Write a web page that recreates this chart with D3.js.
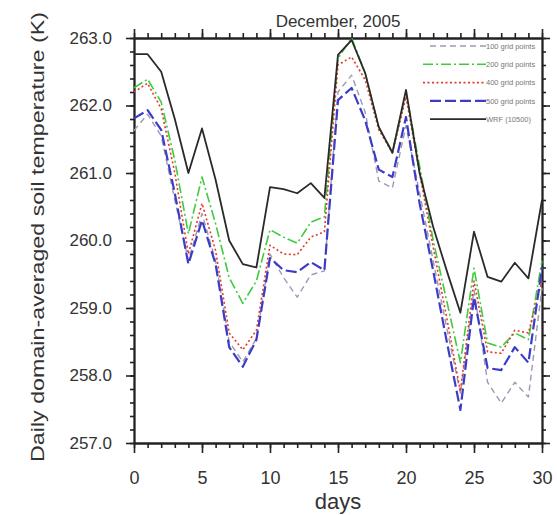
<!DOCTYPE html>
<html>
<head>
<meta charset="utf-8">
<script src="https://cdn.jsdelivr.net/npm/d3@7"></script>
<style>
  body { margin: 0; background: #fff; }
  svg { display: block; font-family: "Liberation Sans", Arial, Helvetica, sans-serif; }
  .axis path, .axis line { stroke: #222; }
  .axis text { fill: #333; }
</style>
</head>
<body>
<div id="vis"></div>
<script>
// days of December 2005
const days = d3.range(0, 31);

// series values (K)
const wrf  = [262.76, 262.76, 262.5, 261.8, 261.0, 261.66, 260.9, 260.0, 259.65, 259.6, 260.79,
              260.76, 260.7, 260.85, 260.63, 262.75, 262.97, 262.48, 261.68, 261.3, 262.23,
              261.0, 260.2, 259.55, 258.93, 260.13, 259.46, 259.39, 259.67, 259.44, 260.6];
const g200 = [262.26, 262.39, 262.05, 261.19, 260.1, 260.94, 260.25, 259.45, 259.07, 259.4, 260.16,
              260.05, 259.96, 260.27, 260.35, 262.7, 263.0, 262.48, 261.68, 261.31, 262.2,
              261.1, 260.0, 259.1, 258.19, 259.59, 258.48, 258.42, 258.63, 258.53, 259.7];
const g400 = [262.2, 262.33, 261.95, 261.0, 259.8, 260.55, 259.85, 258.63, 258.38, 258.67, 259.93,
              259.8, 259.79, 260.05, 260.13, 262.6, 262.72, 262.38, 261.64, 261.3, 262.13,
              261.0, 259.9, 258.85, 257.76, 259.4, 258.35, 258.33, 258.67, 258.63, 259.4];
const g500 = [261.81, 261.93, 261.64, 260.7, 259.65, 260.3, 259.65, 258.42, 258.13, 258.53, 259.74,
              259.56, 259.53, 259.68, 259.56, 262.08, 262.26, 261.78, 261.05, 260.94, 261.83,
              260.55, 259.55, 258.5, 257.49, 259.16, 258.11, 258.08, 258.42, 258.19, 259.6];
const g100 = [261.63, 261.87, 261.55, 260.6, 259.7, 260.4, 259.7, 258.5, 258.2, 258.55, 259.8,
              259.45, 259.16, 259.49, 259.55, 262.2, 262.45, 261.9, 260.88, 260.78, 261.7,
              260.7, 259.7, 258.7, 257.74, 259.27, 257.9, 257.59, 257.9, 257.68, 259.3];

const seriesNames = ["100 grid points", "200 grid points", "400 grid points", "500 grid points", "WRF (10500)"];
const yTicks = [257, 258, 259, 260, 261, 262, 263];
const xTicks = [0, 5, 10, 15, 20, 25, 30];

const W = 557, H = 515;
const margin = { top: 38, right: 15, bottom: 72, left: 134 };
const width = W - margin.left - margin.right;
const height = H - margin.top - margin.bottom;

const svg = d3.select("#vis").append("svg").attr("width", W).attr("height", H);
const g = svg.append("g").attr("transform", `translate(${margin.left},${margin.top})`);

const x = d3.scaleLinear().domain([0, 30]).range([0, width]);
const y = d3.scaleLinear().domain([257, 263]).range([height, 0]);

// minor ticks first, majors on top
const xMinor = d3.range(0, 31);
const yMinor = d3.range(257, 263.001, 0.2);

function styleAxis(sel) {
    sel.selectAll("path").attr("stroke-width", 1.8);
    sel.selectAll("line").attr("stroke-width", 1.6);
}

g.append("g").attr("class", "axis").attr("transform", `translate(0,${height})`)
    .call(d3.axisBottom(x).tickValues(xMinor).tickSize(5).tickSizeOuter(0).tickFormat(""))
    .call(styleAxis);
g.append("g").attr("class", "axis")
    .call(d3.axisTop(x).tickValues(xMinor).tickSize(5).tickSizeOuter(0).tickFormat(""))
    .call(styleAxis);
g.append("g").attr("class", "axis")
    .call(d3.axisLeft(y).tickValues(yMinor).tickSize(4).tickSizeOuter(0).tickFormat(""))
    .call(styleAxis);
g.append("g").attr("class", "axis").attr("transform", `translate(${width},0)`)
    .call(d3.axisRight(y).tickValues(yMinor).tickSize(4).tickSizeOuter(0).tickFormat(""))
    .call(styleAxis);

// major ticks with labels
g.append("g").attr("class", "axis").attr("transform", `translate(0,${height})`)
    .call(d3.axisBottom(x).tickValues(xTicks).tickSize(10).tickSizeOuter(0).tickPadding(18))
    .call(styleAxis)
    .selectAll("text").attr("font-size", 18);
g.append("g").attr("class", "axis")
    .call(d3.axisTop(x).tickValues(xTicks).tickSize(9).tickSizeOuter(0).tickFormat(""))
    .call(styleAxis);
g.append("g").attr("class", "axis")
    .call(d3.axisLeft(y).tickValues(yTicks).tickSize(8).tickSizeOuter(0).tickPadding(14).tickFormat(d3.format(".1f")))
    .call(styleAxis)
    .selectAll("text").attr("font-size", 17);
g.append("g").attr("class", "axis").attr("transform", `translate(${width},0)`)
    .call(d3.axisRight(y).tickValues(yTicks).tickSize(8).tickSizeOuter(0).tickFormat(""))
    .call(styleAxis);

// data lines
const series = [
    { name: seriesNames[0], values: g100, color: "#9a9ab4", dash: "6,4", w: 1.4 },
    { name: seriesNames[1], values: g200, color: "#3ecb3e", dash: "10,3,2,3", w: 1.6 },
    { name: seriesNames[2], values: g400, color: "#e23a2a", dash: "2,2.5", w: 1.6 },
    { name: seriesNames[3], values: g500, color: "#3c3cc8", dash: "11,4", w: 2.2 },
    { name: seriesNames[4], values: wrf,  color: "#2a2a2a", dash: null, w: 1.8 }
];

const line = d3.line().x((d, i) => x(days[i])).y(d => y(d));

g.selectAll("path.series").data(series).join("path")
    .attr("class", "series")
    .attr("fill", "none")
    .attr("stroke", d => d.color)
    .attr("stroke-width", d => d.w)
    .attr("stroke-dasharray", d => d.dash)
    .attr("stroke-linejoin", "round")
    .attr("d", d => line(d.values));

// legend, top right inside the plot
const legend = g.append("g").attr("transform", `translate(${width - 128},0)`);
const lg = legend.selectAll("g").data(series).join("g")
    .attr("transform", (d, i) => `translate(0,${8 + i * 18.3})`);
lg.append("line")
    .attr("x1", (d, i) => (i === 1 || i === 2) ? 9 : 16).attr("x2", 72)
    .attr("stroke", d => d.color)
    .attr("stroke-width", d => d.w)
    .attr("stroke-dasharray", d => d.dash);
lg.append("text")
    .attr("x", 72).attr("dy", "0.35em")
    .attr("font-size", 7.5).attr("fill", "#777")
    .text(d => d.name);

// titles
svg.append("text")
    .attr("x", margin.left + width / 2).attr("y", 27)
    .attr("text-anchor", "middle").attr("font-size", 17).attr("fill", "#333")
    .text("December, 2005");
svg.append("text")
    .attr("x", margin.left + width / 2).attr("y", 509)
    .attr("text-anchor", "middle").attr("font-size", 22).attr("fill", "#333")
    .text("days");
svg.append("text")
    .attr("transform", "translate(44,237) rotate(-90)")
    .attr("text-anchor", "middle").attr("font-size", 19).attr("fill", "#333")
    .attr("textLength", 450).attr("lengthAdjust", "spacingAndGlyphs")
    .text("Daily domain-averaged soil temperature (K)");
</script>
</body>
</html>
